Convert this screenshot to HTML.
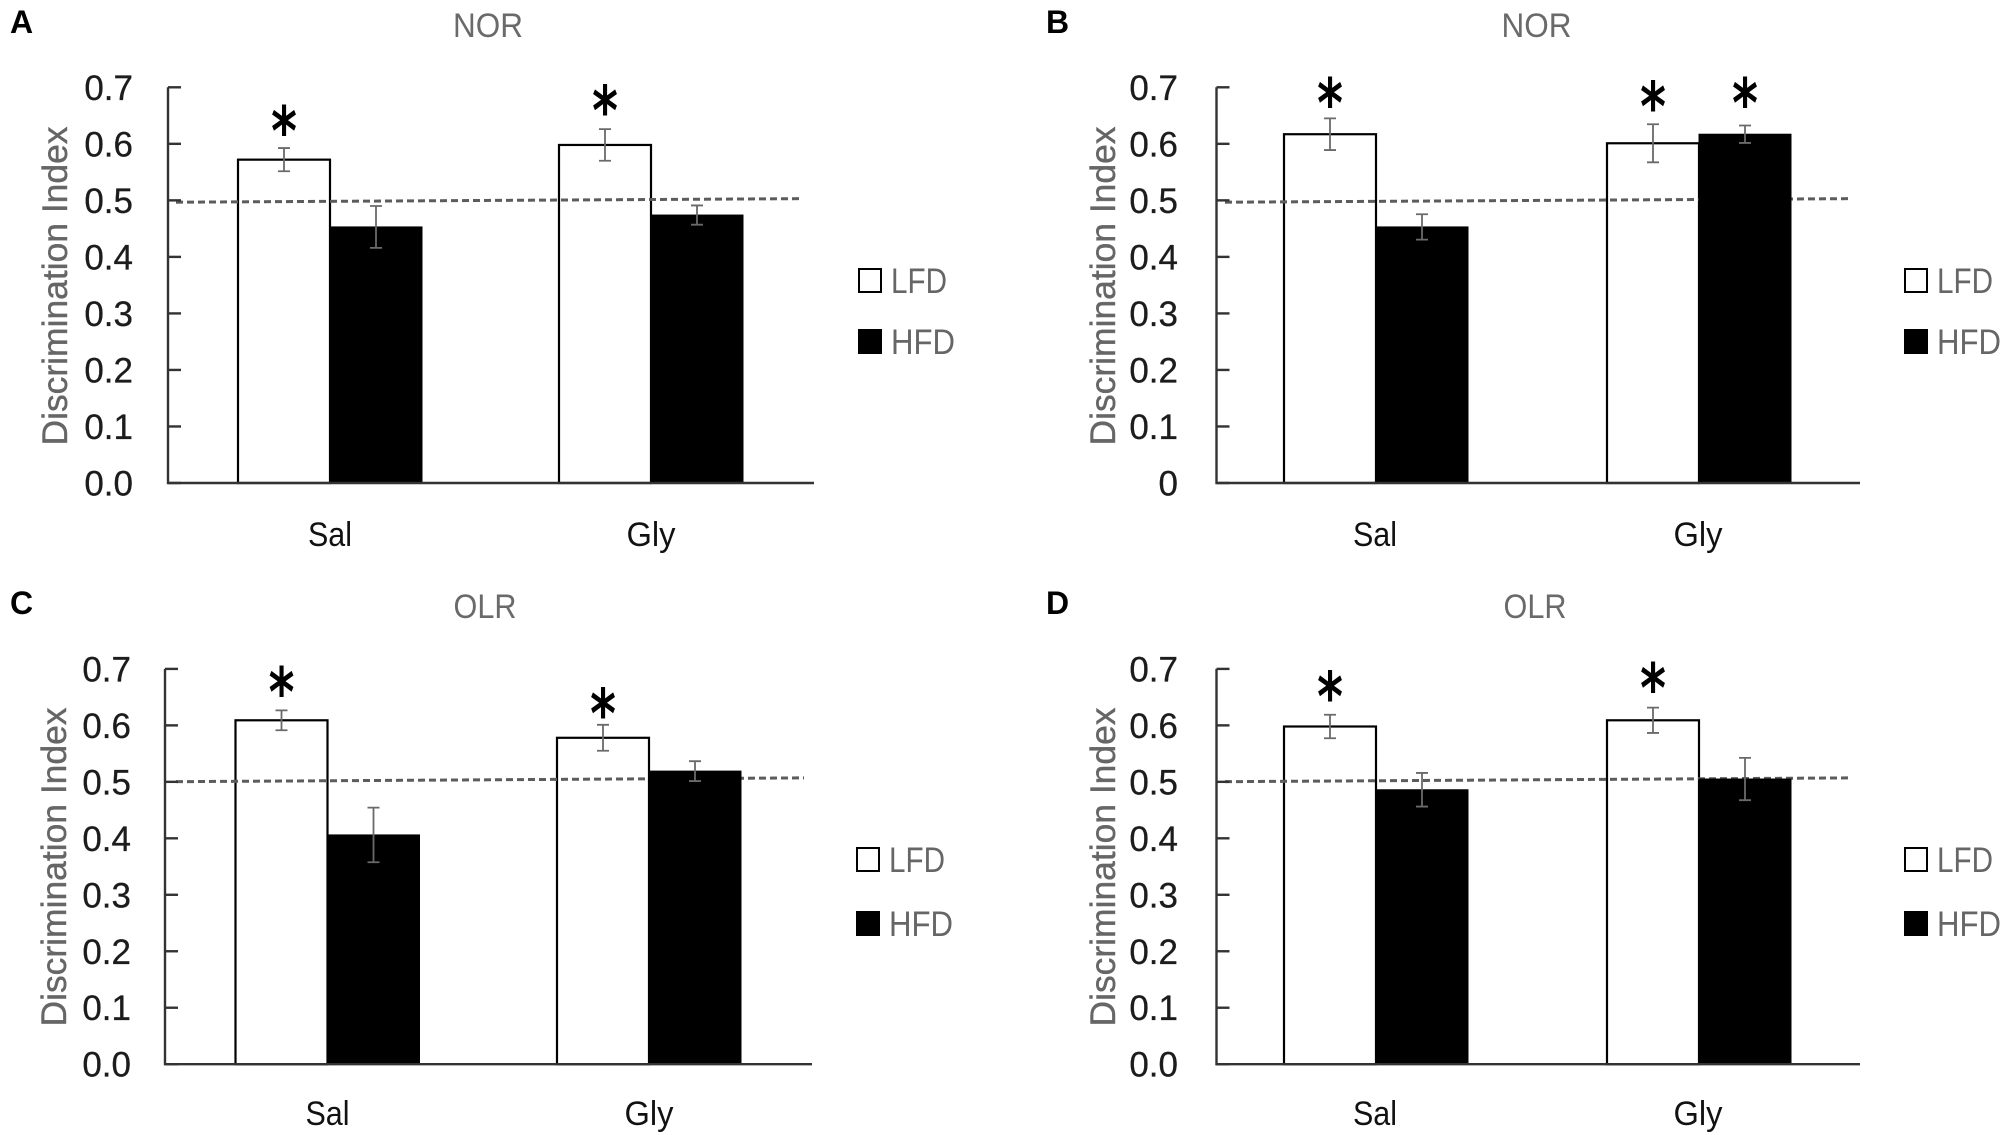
<!DOCTYPE html>
<html lang="en">
<head>
<meta charset="utf-8">
<title>Discrimination Index panels</title>
<style>
html,body{margin:0;padding:0;background:#fff;}
svg{display:block;}
text{font-family:"Liberation Sans",sans-serif;}
</style>
</head>
<body>
<svg id="figure" width="2008" height="1135" viewBox="0 0 2008 1135" xmlns="http://www.w3.org/2000/svg"></svg>
<script>
const categories = ['Sal', 'Gly'];
const seriesNames = ['LFD', 'HFD'];
const yTickValues = [0, 0.1, 0.2, 0.3, 0.4, 0.5, 0.6, 0.7];
const yTickLabelsDecimal = ['0.0', '0.1', '0.2', '0.3', '0.4', '0.5', '0.6', '0.7'];
const yTickLabelsPlainZero = ['0', '0.1', '0.2', '0.3', '0.4', '0.5', '0.6', '0.7'];
const yAxisTitle = 'Discrimination Index';

const panelALfd = [0.572, 0.598];
const panelAHfd = [0.453, 0.474];
const panelALfdErr = [0.0205, 0.028];
const panelAHfdErr = [0.037, 0.017];
const panelALfdStars = [0.642, 0.679];
const panelAHfdStars = [null, null];
const panelADashed = [0.4967, 0.503];

const panelBLfd = [0.617, 0.601];
const panelBHfd = [0.453, 0.617];
const panelBLfdErr = [0.028, 0.0337];
const panelBHfdErr = [0.0224, 0.0154];
const panelBLfdStars = [0.692, 0.686];
const panelBHfdStars = [null, 0.692];
const panelBDashed = [0.4967, 0.503];

const panelCLfd = [0.609, 0.578];
const panelCHfd = [0.406, 0.519];
const panelCLfdErr = [0.0176, 0.023];
const panelCHfdErr = [0.0484, 0.0176];
const panelCLfdStars = [0.679, 0.641];
const panelCHfdStars = [null, null];
const panelCDashed = [0.5003, 0.507];

const panelDLfd = [0.598, 0.609];
const panelDHfd = [0.486, 0.505];
const panelDLfdErr = [0.0208, 0.0224];
const panelDHfdErr = [0.0298, 0.0375];
const panelDLfdStars = [0.671, 0.686];
const panelDHfdStars = [null, null];
const panelDDashed = [0.5003, 0.507];

const svgNS = 'http://www.w3.org/2000/svg';
const figure = document.getElementById('figure');

function make(tag, parent, attrs, content) {
  const el = document.createElementNS(svgNS, tag);
  Object.keys(attrs).forEach(function (k) { el.setAttribute(k, attrs[k]); });
  if (content !== undefined) el.textContent = content;
  parent.appendChild(el);
  return el;
}

function drawPanel(p) {
  const g = make('g', figure, {});
  
  

  const yScale = function (v) { return p.yBottom - (v / 0.7) * (p.yBottom - p.yTop); };
  const barLeft = function (c, s) { return p.barStart + c * p.groupStep + s * p.barWidth; };
  const barCenter = function (c, s) { return barLeft(c, s) + p.barWidth / 2; };
  const seriesVals = [p.lfd, p.hfd];
  const seriesErr = [p.lfdErr, p.hfdErr];
  const seriesStars = [p.lfdStars, p.hfdStars];

  const letter = make('text', g, { x: p.letterX, y: p.letterY, 'font-size': 32, 'font-weight': 'bold', fill: '#000' }, p.letter);
  
  

  const title = make('text', g, { x: p.titleX, y: p.titleY, 'font-size': 34, fill: '#6a6a6a', 'text-anchor': 'middle', textLength: p.titleLen, lengthAdjust: 'spacingAndGlyphs' }, p.title);
  
  

  const drawBars = function (s) {
    categories.forEach(function (cat, c) {
      const isWhite = s === 0;
      const bar = make('rect', g, {
        x: barLeft(c, s), y: yScale(seriesVals[s][c]),
        width: p.barWidth, height: yScale(0) - yScale(seriesVals[s][c]),
        fill: isWhite ? '#fff' : '#000', stroke: '#000', 'stroke-width': isWhite ? 2.2 : 1
      });
      
      
    });
  };
  drawBars(0);

  const dashed = make('line', g, {
    x1: p.dashStart, x2: p.dashEnd, y1: yScale(p.dashed[0]), y2: yScale(p.dashed[1]),
    stroke: '#5c5c5c', 'stroke-width': 3, 'stroke-dasharray': '7 4'
  });
  
  

  drawBars(1);

  [0, 1].forEach(function (s) {
    categories.forEach(function (cat, c) {
      const v = seriesVals[s][c];
      const e = seriesErr[s][c];
      const cx = barCenter(c, s);
      const path = 'M' + (cx - 6) + ' ' + yScale(v + e) + 'H' + (cx + 6) +
        'M' + cx + ' ' + yScale(v + e) + 'V' + yScale(v - e) +
        'M' + (cx - 6) + ' ' + yScale(v - e) + 'H' + (cx + 6);
      const err = make('path', g, { d: path, fill: 'none', stroke: '#6a6a6a', 'stroke-width': 1.8 });
      
      

      const starVal = seriesStars[s][c];
      if (starVal !== null) {
        const star = make('text', g, {
          x: 0, y: 27, 'font-size': 52, 'text-anchor': 'middle',
          transform: 'translate(' + cx + ' ' + yScale(starVal) + ') scale(0.95 1.3)',
          'font-weight': 'bold', fill: '#000', style: 'font-family:"DejaVu Sans",sans-serif'
        }, '*');
        
        
      }
    });
  });

  const axisPath = 'M' + p.axisX + ' ' + yScale(0.7) + 'V' + yScale(0) + 'H' + p.axisEnd;
  const axis = make('path', g, { d: axisPath, fill: 'none', stroke: '#333', 'stroke-width': 2.4 });
  
  

  yTickValues.forEach(function (v, i) {
    const tick = make('line', g, { x1: p.axisX, x2: p.axisX + 13, y1: yScale(v), y2: yScale(v), stroke: '#333', 'stroke-width': 2.4 });
    
    
    const label = make('text', g, { x: p.tickRight, y: yScale(v) + 12.5, 'font-size': 35, 'text-anchor': 'end', fill: '#1c1c1c', stroke: '#1c1c1c', 'stroke-width': 0.3 }, p.tickLabels[i]);
    
    
  });

  const yTitle = make('text', g, {
    transform: 'translate(' + p.yTitleX + ' ' + p.yTitleY + ') rotate(-90)',
    'font-size': 35, 'text-anchor': 'middle', fill: '#666', stroke: '#666', 'stroke-width': 0.4,
    textLength: 319, lengthAdjust: 'spacingAndGlyphs'
  }, yAxisTitle);
  
  

  categories.forEach(function (cat, c) {
    const xl = make('text', g, { x: p.catX[c], y: p.catY, 'font-size': 34, 'text-anchor': 'middle', fill: '#111', textLength: c === 0 ? 44 : 49, lengthAdjust: 'spacingAndGlyphs' }, cat);
    
    
  });

  seriesNames.forEach(function (name, s) {
    const swatch = make('rect', g, {
      x: p.legendX - 1, y: p.legendY[s] - 24, width: 22, height: 23,
      fill: s === 0 ? '#fff' : '#000', stroke: '#000', 'stroke-width': 2
    });
    
    
    const lt = make('text', g, { x: p.legendX + 31, y: p.legendY[s], 'font-size': 35, fill: '#666', textLength: s === 0 ? 56 : 64, lengthAdjust: 'spacingAndGlyphs' }, name);
    
    
  });
}

drawPanel({
  letter: 'A', letterX: 10, letterY: 33, title: 'NOR', titleX: 488, titleY: 37, titleLen: 70,
  lfd: panelALfd, hfd: panelAHfd, lfdErr: panelALfdErr, hfdErr: panelAHfdErr,
  lfdStars: panelALfdStars, hfdStars: panelAHfdStars, dashed: panelADashed,
  tickLabels: yTickLabelsDecimal,
  yTop: 87.3, yBottom: 483, axisX: 168, axisEnd: 814,
  barStart: 238, groupStep: 321, barWidth: 92, dashStart: 176, dashEnd: 802,
  tickRight: 133, yTitleX: 67, yTitleY: 286, catX: [330, 651], catY: 546,
  legendX: 860, legendY: [293, 354]
});
drawPanel({
  letter: 'B', letterX: 1046, letterY: 33, title: 'NOR', titleX: 1536.5, titleY: 37, titleLen: 70,
  lfd: panelBLfd, hfd: panelBHfd, lfdErr: panelBLfdErr, hfdErr: panelBHfdErr,
  lfdStars: panelBLfdStars, hfdStars: panelBHfdStars, dashed: panelBDashed,
  tickLabels: yTickLabelsPlainZero,
  yTop: 87.3, yBottom: 483, axisX: 1216.5, axisEnd: 1860,
  barStart: 1284, groupStep: 323, barWidth: 92, dashStart: 1225, dashEnd: 1850,
  tickRight: 1178, yTitleX: 1115, yTitleY: 286, catX: [1375, 1698], catY: 546,
  legendX: 1906, legendY: [293, 354]
});
drawPanel({
  letter: 'C', letterX: 10, letterY: 614, title: 'OLR', titleX: 485, titleY: 618, titleLen: 63,
  lfd: panelCLfd, hfd: panelCHfd, lfdErr: panelCLfdErr, hfdErr: panelCHfdErr,
  lfdStars: panelCLfdStars, hfdStars: panelCHfdStars, dashed: panelCDashed,
  tickLabels: yTickLabelsDecimal,
  yTop: 668.9, yBottom: 1064.2, axisX: 165, axisEnd: 812,
  barStart: 235.5, groupStep: 321.5, barWidth: 92, dashStart: 176, dashEnd: 804,
  tickRight: 131, yTitleX: 66, yTitleY: 867, catX: [327.5, 649], catY: 1125,
  legendX: 858, legendY: [872, 936]
});
drawPanel({
  letter: 'D', letterX: 1046, letterY: 614, title: 'OLR', titleX: 1535, titleY: 618, titleLen: 63,
  lfd: panelDLfd, hfd: panelDHfd, lfdErr: panelDLfdErr, hfdErr: panelDHfdErr,
  lfdStars: panelDLfdStars, hfdStars: panelDHfdStars, dashed: panelDDashed,
  tickLabels: yTickLabelsDecimal,
  yTop: 668.9, yBottom: 1064.2, axisX: 1216.5, axisEnd: 1860,
  barStart: 1284, groupStep: 323, barWidth: 92, dashStart: 1225, dashEnd: 1850,
  tickRight: 1178, yTitleX: 1115, yTitleY: 867, catX: [1375, 1698], catY: 1125,
  legendX: 1906, legendY: [872, 936]
});
</script>
</body>
</html>
